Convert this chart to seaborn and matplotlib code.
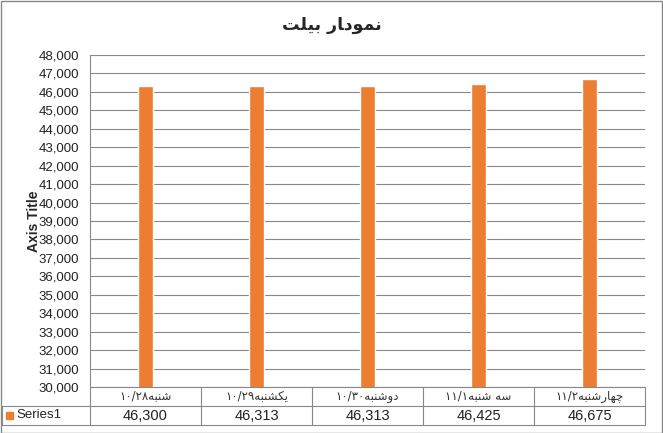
import matplotlib
matplotlib.use('Agg')
import matplotlib.pyplot as plt
import seaborn as sns
import pandas as pd
from matplotlib.patches import Rectangle
from matplotlib.lines import Line2D

# Data (Persian text written in visual order with presentation forms,
# since matplotlib does no Arabic shaping / bidi)
categories = [
    '\u06f1\u06f0/\u06f2\u06f8' + '\ufeea\ufe92\ufee8\ufeb7',
    '\u06f1\u06f0/\u06f2\u06f9' + '\ufeea\ufe92\ufee8\ufeb8\ufb91\ufef3',
    '\u06f1\u06f0/\u06f3\u06f0' + '\ufeea\ufe92\ufee8\ufeb7\ufeed\ufea9',
    '\u06f1\u06f1/\u06f1' + '\ufeea\ufe92\ufee8\ufeb7 \ufeea\ufeb3',
    '\u06f1\u06f1/\u06f2' + '\ufeea\ufe92\ufee8\ufeb7\ufead\ufe8e\ufeec\ufb7c',
]
values = [46300, 46313, 46313, 46425, 46675]
series_name = 'Series1'
title = '\ufe96\ufee0\ufef4\ufe91 \ufead\ufe8e\ufea9\ufeee\ufee4\ufee7'
y_ticks = list(range(30000, 48001, 1000))

sns.set_style('white')
plt.rcParams['font.family'] = ['Liberation Sans', 'DejaVu Sans']

df = pd.DataFrame({'day': categories, 'value': values})

W, H = 663, 433
fig = plt.figure(figsize=(W / 100, H / 100), dpi=100)
ax = fig.add_axes([90 / W, 1 - 387 / H, 555 / W, 332 / H])

sns.barplot(data=df, x='day', y='value', color='#ED7D31', width=0.13,
            saturation=1, ax=ax, zorder=3)

ax.set_ylim(30000, 48000)
ax.set_xlim(-0.5, len(categories) - 0.5)
ax.set_yticks(y_ticks)
ax.set_yticklabels([f'{v:,}' for v in y_ticks], fontsize=9.5, color='#222222')
ax.yaxis.grid(True, color='#888888', linewidth=0.8, zorder=0)
ax.set_axisbelow(True)
ax.tick_params(axis='y', length=5, color='#888888', width=0.8, pad=3)
ax.set_xticks([])
ax.set_xlabel('')
ax.set_ylabel('Axis Title', fontsize=10, fontweight='bold')
ax.yaxis.set_label_coords(-49 / 555, 0.5)
for s in ['top', 'right', 'bottom']:
    ax.spines[s].set_visible(False)
ax.spines['left'].set_color('#888888')
ax.spines['left'].set_linewidth(0.8)

# Title
fig.text(0.5, 1 - 25 / H, title, ha='center', va='center',
         fontsize=12.5, fontweight='bold', family=['DejaVu Sans'])

# Data table below the plot
row_h = 19 / 332
left_x = -88 / 555
tr = ax.transAxes
n = len(categories)
lc = '#888888'
lines = [
    ((0, 1), (0, 0)),
    ((left_x, 1), (-row_h, -row_h)),
    ((left_x, 1), (-2 * row_h, -2 * row_h)),
    ((left_x, left_x), (-row_h, -2 * row_h)),
]
for i in range(n + 1):
    lines.append(((i / n, i / n), (0, -2 * row_h)))
for xs, ys in lines:
    ax.add_line(Line2D(xs, ys, transform=tr, color=lc, linewidth=0.8,
                       clip_on=False))

for i, (c, v) in enumerate(zip(categories, values)):
    xc = (i + 0.5) / n
    ax.text(xc, -row_h / 2, c, transform=tr, ha='center', va='center',
            fontsize=8.5, color='#333333', family=['DejaVu Sans'])
    ax.text(xc, -1.5 * row_h, f'{v:,}', transform=tr, ha='center',
            va='center', fontsize=10.5, color='#222222')

ax.add_patch(Rectangle((left_x + 4 / 555, -1.5 * row_h - 3.5 / 332),
                       7 / 555, 7 / 332, transform=tr, color='#ED7D31',
                       clip_on=False))
ax.text(left_x + 14 / 555, -1.5 * row_h, series_name, transform=tr,
        ha='left', va='center', fontsize=9.5, color='#222222')

# Outer chart border
fig.patches.append(Rectangle((0.5 / W, 0.5 / H), 1 - 1.5 / W, 1 - 1.5 / H,
                             transform=fig.transFigure, fill=False,
                             edgecolor='#898989', linewidth=1))

fig.savefig('out.png', dpi=100)
plt.close(fig)
